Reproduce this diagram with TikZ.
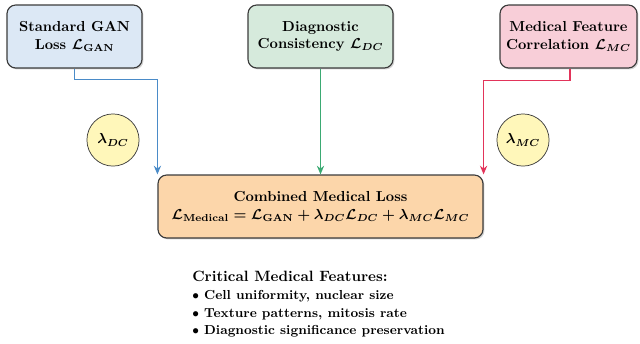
\documentclass[tikz,border=0pt]{standalone}
\usepackage{amsmath}
\usetikzlibrary{shadows,arrows.meta}
\definecolor{bluefill}{RGB}{220,232,245}
\definecolor{greenfill}{RGB}{214,234,220}
\definecolor{pinkfill}{RGB}{248,206,216}
\definecolor{orangefill}{RGB}{252,214,170}
\definecolor{yellowfill}{RGB}{255,247,186}
\definecolor{bluearrow}{RGB}{74,139,200}
\definecolor{greenarrow}{RGB}{59,170,115}
\definecolor{redarrow}{RGB}{226,52,90}
\definecolor{bordergray}{RGB}{60,60,60}
\tikzset{
  box/.style={draw=bordergray, line width=0.8pt, rounded corners=6pt, align=center,
    font=\bfseries\boldmath, inner sep=2pt,
    drop shadow={opacity=0.35, shadow xshift=1pt, shadow yshift=-1pt}},
  weight/.style={circle, draw=bordergray, line width=0.5pt, fill=yellowfill,
    minimum size=36pt, inner sep=0pt, font=\boldmath},
  conn/.style={line width=0.9pt, -{Stealth[length=6pt,width=5pt]}},
}
\begin{document}
\begin{tikzpicture}[x=0.69pt,y=-0.69pt]
\useasboundingbox (0,0) rectangle (640,343);
\node[box, fill=bluefill, minimum width=135*0.69pt, minimum height=63*0.69pt] (gan) at (74.5,36.5)
  {Standard GAN\\Loss $\mathcal{L}_{\mathrm{GAN}}$};
\node[box, fill=greenfill, minimum width=145*0.69pt, minimum height=63*0.69pt] (dc) at (320.5,36.5)
  {Diagnostic\\Consistency $\mathcal{L}_{DC}$};
\node[box, fill=pinkfill, minimum width=137*0.69pt, minimum height=63*0.69pt] (mc) at (568.5,36.5)
  {Medical Feature\\Correlation $\mathcal{L}_{MC}$};
\node[box, fill=orangefill, minimum width=325*0.69pt, minimum height=63*0.69pt] (comb) at (320.5,206.5)
  {Combined Medical Loss\\$\mathcal{L}_{\mathrm{Medical}} = \mathcal{L}_{\mathrm{GAN}} + \lambda_{DC}\mathcal{L}_{DC} + \lambda_{MC}\mathcal{L}_{MC}$};
\node[weight] (ldc) at (113,140) {$\lambda_{DC}$};
\node[weight] (lmc) at (523,140) {$\lambda_{MC}$};
\draw[conn, bluearrow] (gan.south) -- ++(0,11) -| (comb.north west);
\draw[conn, greenarrow] (dc.south) -- (comb.north);
\draw[conn, redarrow] ([xshift=1pt]mc.south) -- ++(0,12) -| (comb.north east);
\node[anchor=north west, align=left, font=\fontsize{9}{12.2}\selectfont\bfseries, inner sep=0pt] (feat) at (192,271)
  {{\fontsize{10.3}{12.2}\selectfont\bfseries Critical Medical Features:}\\
   $\bullet$ Cell uniformity, nuclear size\\
   $\bullet$ Texture patterns, mitosis rate\\
   $\bullet$ Diagnostic significance preservation};
\end{tikzpicture}
\end{document}
